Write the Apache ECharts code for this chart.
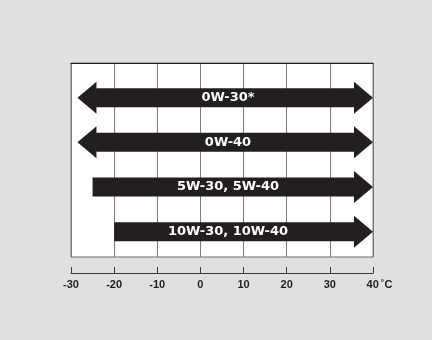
<!DOCTYPE html>
<html>
<head>
<meta charset="utf-8">
<script src="https://cdn.jsdelivr.net/npm/echarts@6/dist/echarts.min.js"></script>
<style>
  html, body { margin: 0; padding: 0; background: #e0e0e0; }
  #chart { width: 432px; height: 340px; }
</style>
</head>
<body>
<div id="chart"></div>
<script>
// oil viscosity grades vs ambient temperature (°C)
const grades = ['0W-30*', '0W-40', '5W-30, 5W-40', '10W-30, 10W-40']
const tempFrom = [-28.5, -28.5, -25, -20]
const tempTo = [40, 40, 40, 40]
const twoWay = [true, true, false, false]
const tempTicks = [-30, -20, -10, 0, 10, 20, 30, 40]

const rows = grades.map((g, i) => [tempFrom[i], tempTo[i], i, twoWay[i] ? 1 : 0, g])

const chart = echarts.init(document.getElementById('chart'))

function renderArrow(params, api) {
  const row = api.value(2)
  const a = api.coord([api.value(0), row])
  const b = api.coord([api.value(1), row])
  const y = a[1]
  const body = 9.5
  const head = 16
  const len = 19
  const pts = []
  if (api.value(3)) {
    pts.push([a[0], y], [a[0] + len, y - head], [a[0] + len, y - body])
  } else {
    pts.push([a[0], y - body])
  }
  pts.push([b[0] - len, y - body], [b[0] - len, y - head], [b[0], y],
    [b[0] - len, y + head], [b[0] - len, y + body])
  if (api.value(3)) {
    pts.push([a[0] + len, y + body], [a[0] + len, y + head])
  } else {
    pts.push([a[0], y + body])
  }
  const left = api.coord([tempTicks[0], row])[0]
  const right = api.coord([tempTicks[tempTicks.length - 1], row])[0]
  return {
    type: 'group',
    children: [
      {
        type: 'polygon',
        shape: { points: pts },
        style: { fill: '#231f20' }
      },
      {
        type: 'text',
        style: {
          text: api.value(4),
          x: (left + right) / 2 + 6,
          y: y,
          fill: '#fff',
          font: 'bold 13px "DejaVu Sans"',
          align: 'center',
          verticalAlign: 'middle'
        }
      }
    ]
  }
}

const labelFont = '"Liberation Sans", Arial, sans-serif'

const options = {
  backgroundColor: '#e0e0e0',
  animation: false,
  grid: {
    left: 71,
    right: 59,
    top: 63,
    bottom: 83,
    show: true,
    backgroundColor: '#fff',
    borderColor: '#6e6e6e',
    borderWidth: 1
  },
  xAxis: [
    {
      type: 'value',
      min: -30,
      max: 40,
      interval: 10,
      position: 'bottom',
      offset: 16,
      axisLine: { show: true, onZero: false, lineStyle: { color: '#3a3a3a', width: 1 } },
      axisTick: { show: true, inside: true, length: 6, lineStyle: { color: '#3a3a3a' } },
      splitLine: { show: true, lineStyle: { color: '#7a7a7a', width: 1 } },
      axisLabel: {
        margin: 6,
        color: '#231f20',
        fontFamily: labelFont,
        fontWeight: 'bold',
        fontSize: 11,
        formatter: v => v === 40 ? '{p|}{v|40}{u|˚C}' : String(v),
        rich: {
          p: { width: 13 },
          v: { color: '#231f20', fontWeight: 'bold', fontSize: 11, fontFamily: labelFont },
          u: { color: '#231f20', fontWeight: 'bold', fontSize: 11, fontFamily: labelFont, padding: [0, 0, 0, 2] }
        }
      }
    },
    {
      type: 'value',
      min: -30,
      max: 40,
      position: 'top',
      axisLine: { show: true, onZero: false, lineStyle: { color: '#231f20', width: 1 } },
      axisTick: { show: false },
      axisLabel: { show: false },
      splitLine: { show: false }
    }
  ],
  yAxis: {
    type: 'value',
    inverse: true,
    min: -0.775,
    max: 3.566,
    show: false
  },
  series: [
    {
      type: 'custom',
      renderItem: renderArrow,
      encode: { x: [0, 1], y: 2 },
      data: rows
    }
  ]
}

chart.setOption(options)
</script>
</body>
</html>
